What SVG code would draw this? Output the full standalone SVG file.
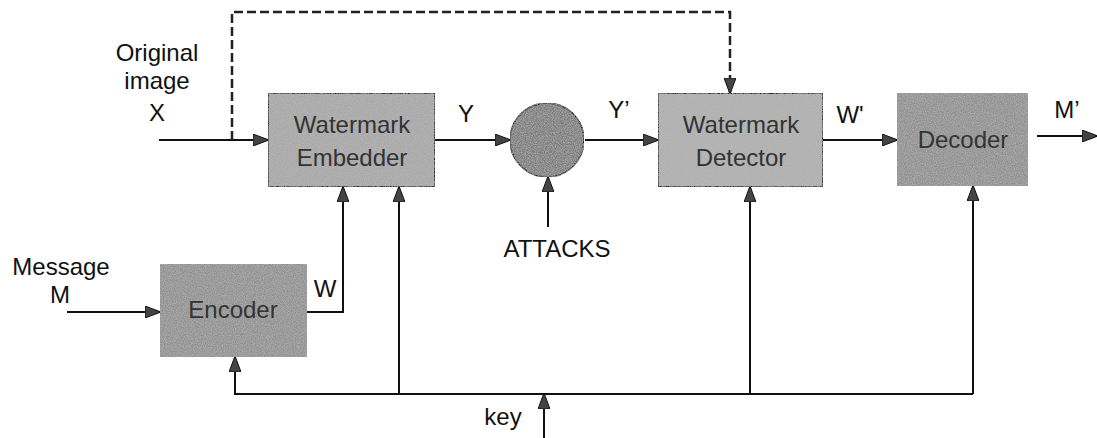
<svg xmlns="http://www.w3.org/2000/svg" width="1097" height="438" viewBox="0 0 1097 438">
<style>
.t{font-family:"Liberation Sans",Arial,sans-serif;font-size:24px;fill:#111}
.bt{font-family:"Liberation Sans",Arial,sans-serif;font-size:24px;fill:#333}
.ln{stroke:#111;stroke-width:2;fill:none}
.dash{stroke:#222;stroke-width:2.5;fill:none;stroke-dasharray:9,4}
</style>
<defs>
<marker id="ah" markerWidth="16" markerHeight="12" refX="15" refY="6" orient="auto" markerUnits="userSpaceOnUse">
<path d="M0,0 L16,6 L0,12 Z" fill="#444" stroke="#111" stroke-width="1"/>
</marker>
<filter id="noise" x="0" y="0" width="100%" height="100%">
<feTurbulence type="fractalNoise" baseFrequency="0.9" numOctaves="2" seed="3" result="n"/>
<feColorMatrix in="n" type="matrix" values="0 0 0 0 0.5  0 0 0 0 0.5  0 0 0 0 0.5  0 0 0 1.2 -0.35" result="g"/>
<feComposite in="g" in2="SourceGraphic" operator="atop"/>
</filter>
</defs>
<rect width="1097" height="438" fill="#fff"/>

<g id="connectors">
<line class="ln" x1="159" y1="140" x2="268" y2="140" marker-end="url(#ah)"/>
<polyline class="dash" points="232,140 232,12 730,12 730,93" marker-end="url(#ah)"/>
<line class="ln" x1="435" y1="140" x2="510" y2="140" marker-end="url(#ah)"/>
<line class="ln" x1="585" y1="140" x2="658" y2="140" marker-end="url(#ah)"/>
<line class="ln" x1="548" y1="227" x2="548" y2="177" marker-end="url(#ah)"/>
<line class="ln" x1="823" y1="140" x2="897" y2="140" marker-end="url(#ah)"/>
<line class="ln" x1="1037" y1="136" x2="1097" y2="136" marker-end="url(#ah)"/>
<line class="ln" x1="67" y1="312" x2="160" y2="312" marker-end="url(#ah)"/>
<polyline class="ln" points="307,312 343,312 343,187" marker-end="url(#ah)"/>
<line class="ln" x1="399" y1="394" x2="399" y2="187" marker-end="url(#ah)"/>
<line class="ln" x1="750" y1="394" x2="750" y2="187" marker-end="url(#ah)"/>
<line class="ln" x1="973" y1="394" x2="973" y2="186" marker-end="url(#ah)"/>
<polyline class="ln" points="973,394 235,394 235,357" marker-end="url(#ah)"/>
<line class="ln" x1="544" y1="438" x2="544" y2="394" marker-end="url(#ah)"/>
</g>

<g id="embedder">
<rect x="268" y="93" width="167" height="94" fill="#a8a8a8" stroke="#222" stroke-width="2" filter="url(#noise)"/>
<text class="bt" x="352" y="133" text-anchor="middle">Watermark</text>
<text class="bt" x="352" y="166" text-anchor="middle">Embedder</text>
</g>
<g id="attack">
<circle cx="547" cy="140" r="37" fill="#7a7a7a" stroke="#222" stroke-width="1.5" filter="url(#noise)"/>
</g>
<g id="detector">
<rect x="658" y="93" width="165" height="94" fill="#b0b0b0" stroke="#222" stroke-width="2" filter="url(#noise)"/>
<text class="bt" x="741" y="133" text-anchor="middle">Watermark</text>
<text class="bt" x="741" y="166" text-anchor="middle">Detector</text>
</g>
<g id="decoder">
<rect x="897" y="93" width="131" height="93" fill="#8f8f8f" filter="url(#noise)"/>
<text class="bt" x="963" y="148" text-anchor="middle">Decoder</text>
</g>
<g id="encoder">
<rect x="160" y="264" width="147" height="93" fill="#909090" filter="url(#noise)"/>
<text class="bt" x="233" y="318" text-anchor="middle">Encoder</text>
</g>

<g id="labels">
<text class="t" x="157" y="61" text-anchor="middle">Original</text>
<text class="t" x="157" y="89" text-anchor="middle">image</text>
<text class="t" x="157" y="121" text-anchor="middle">X</text>
<text class="t" x="466" y="122" text-anchor="middle">Y</text>
<text class="t" x="619" y="118" text-anchor="middle">Y’</text>
<text class="t" x="557" y="257" text-anchor="middle">ATTACKS</text>
<text class="t" x="850" y="123" text-anchor="middle">W'</text>
<text class="t" x="1067" y="118" text-anchor="middle">M’</text>
<text class="t" x="61" y="275" text-anchor="middle">Message</text>
<text class="t" x="60" y="303" text-anchor="middle">M</text>
<text class="t" x="325" y="297" text-anchor="middle">W</text>
<text class="t" x="503" y="425" text-anchor="middle">key</text>
</g>
</svg>
